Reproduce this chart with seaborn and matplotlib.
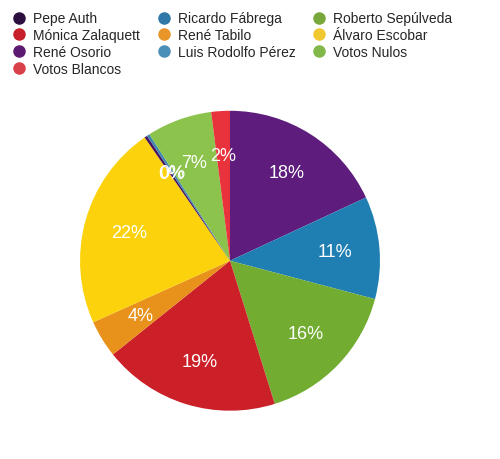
import matplotlib
matplotlib.use("Agg")
import matplotlib.pyplot as plt
from matplotlib.lines import Line2D
import seaborn as sns

# candidates in legend order (same order as slices, clockwise from top)
candidates = ["Pepe Auth", "Ricardo Fábrega", "Roberto Sepúlveda",
              "Mónica Zalaquett", "René Tabilo", "Álvaro Escobar",
              "René Osorio", "Luis Rodolfo Pérez", "Votos Nulos", "Votos Blancos"]
shares = [18, 11, 16, 19, 4, 22, 0.3, 0.3, 7, 2]

# colours seen on the slices and on the legend dots
slice_colors = ["#5e1d7c", "#1f7fb3", "#72ad31", "#cc2029", "#e8911b",
                "#fbd20b", "#4a1560", "#3f86b3", "#8bc34c", "#e8333d"]
legend_colors = ["#2d0f3f", "#2f78a8", "#78a83a", "#c8202a", "#e8962a",
                 "#f0c830", "#5c1a72", "#4a8fb8", "#82b84a", "#d9404a"]

sns.set_style("white")
plt.rcParams["font.family"] = ["Liberation Sans", "DejaVu Sans"]

fig = plt.figure(figsize=(5, 4.6), dpi=100)
ax = fig.add_axes([0.16, 0.105, 0.60, 0.652])
wedges, texts, autotexts = ax.pie(
    shares, colors=sns.color_palette(slice_colors), startangle=90,
    counterclock=False, autopct="%.0f%%", pctdistance=0.7,
    wedgeprops=dict(linewidth=0),
    textprops=dict(color="white", fontsize=13))
ax.set_xlim(-1, 1)
ax.set_ylim(-1, 1)
ax.set_aspect("equal")

handles = [Line2D([], [], marker="o", linestyle="", markersize=8,
                  color=c) for c in legend_colors]
# matplotlib fills legend columns first, so reorder to read row by row
ncol = 3
order = []
for col in range(ncol):
    order += list(range(col, len(candidates), ncol))
fig.legend([handles[i] for i in order], [candidates[i] for i in order],
           ncol=ncol, loc="upper left", bbox_to_anchor=(0.0, 1.0),
           frameon=False, fontsize=10, handletextpad=0.5,
           columnspacing=1.2, labelspacing=0.2, handlelength=1.0)

fig.savefig("out.png", dpi=100)
